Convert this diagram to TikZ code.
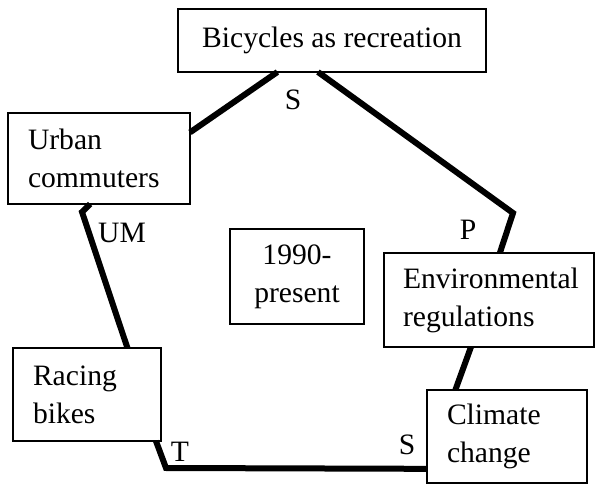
\documentclass[tikz,border=0pt]{standalone}
\usepackage{fontspec}
\setmainfont{Liberation Serif}
\usetikzlibrary{positioning}

\tikzset{
  era/.style={draw, line width=0.6pt, rectangle, outer sep=0pt, inner ysep=0pt,
    font=\fontsize{14.8}{19}\selectfont},
  link/.style={line width=3pt},
  tag/.style={font=\fontsize{14.8}{19}\selectfont, inner sep=0pt}
}

\begin{document}
\begin{tikzpicture}[x=0.5pt,y=-0.5pt]
    \useasboundingbox (0,0) rectangle (595,486);

    % Boxes
    \node[era, minimum width=154pt, minimum height=31.5pt] (bic) at (332,40.5) {Bicycles as recreation};
    \node[era, minimum height=45.5pt, text width=71pt, inner xsep=10pt, align=left] (urb) at (99,158.5) {Urban\\commuters};
    \node[era, minimum width=67pt, minimum height=47.5pt, align=center] (now) at (297,276.5) {1990-\\present};
    \node[era, minimum height=47pt, text width=86pt, inner xsep=9.5pt, align=left] (env) at (489,300) {Environmental\\regulations};
    \node[era, minimum height=46.5pt, text width=54pt, inner xsep=10pt, align=left] (rac) at (87,394.5) {Racing\\bikes};
    \node[era, minimum height=46.5pt, text width=60pt, inner xsep=10pt, align=left] (cli) at (507,436.5) {Climate\\change};

    % Bends
    \coordinate (c1) at (82,212);
    \coordinate (c2) at (513,213);
    \coordinate (c3) at (166,468);

    % Connectors
    \draw[link] (bic.210) -- (urb.16);
    \draw[link] (urb.259) -- (c1) -- (rac.49);
    \draw[link] (rac.326) -- (c3) -- (cli.202);
    \draw[link] (cli.138) -- (env.249);
    \draw[link] (env.77) -- (c2) -- (bic.246);

    % Labels
    \node[tag] (s1) at (293,100) {S};
    \node[tag] (um) at (122,233) {UM};
    \node[tag] (p) at (468,230) {P};
    \node[tag] (t) at (180,452) {T};
    \node[tag] (s2) at (407,445) {S};
\end{tikzpicture}
\end{document}
